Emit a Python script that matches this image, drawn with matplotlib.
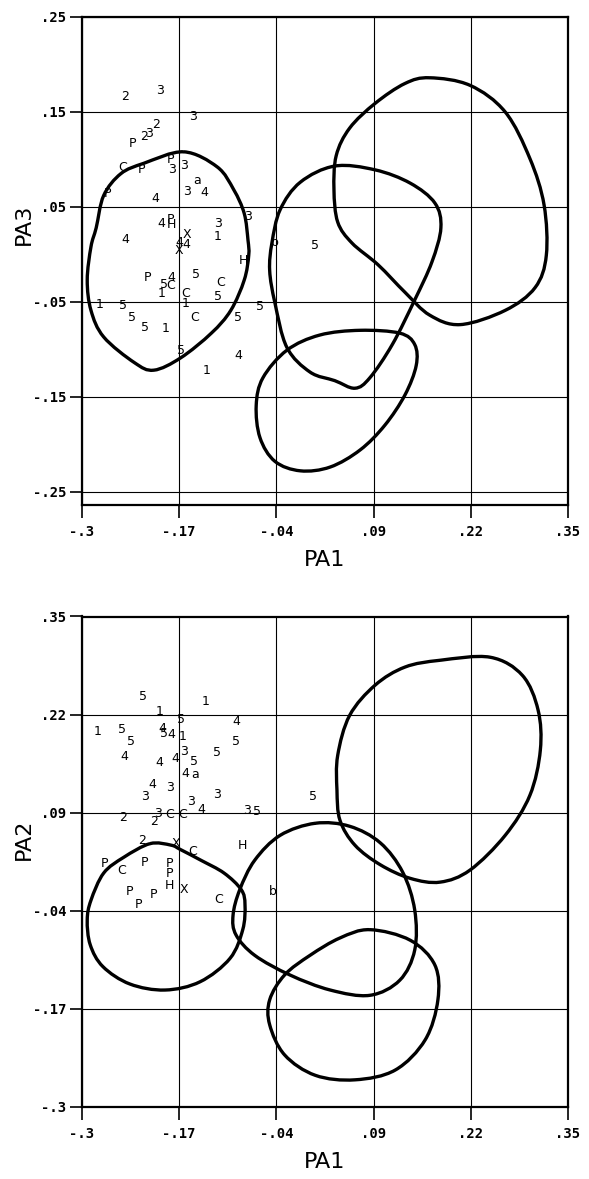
import numpy as np
import matplotlib
matplotlib.use("Agg")
import matplotlib.pyplot as plt
from matplotlib.path import Path
from matplotlib.patches import PathPatch

# ---------------- axes ticks ----------------
x_ticks = [-0.30, -0.17, -0.04, 0.09, 0.22, 0.35]
x_ticklabels = ["-.3", "-.17", "-.04", ".09", ".22", ".35"]
top_yticks = [0.25, 0.15, 0.05, -0.05, -0.15, -0.25]
top_yticklabels = [".25", ".15", ".05", "-.05", "-.15", "-.25"]
bot_yticks = [0.35, 0.22, 0.09, -0.04, -0.17, -0.30]
bot_yticklabels = [".35", ".22", ".09", "-.04", "-.17", "-.3"]

# ---------------- top panel (PA1 vs PA3) labelled points ----------------
top_text = ["2", "3", "3", "2", "3", "2", "P", "C", "P", "P", "3", "3", "3", "a", "4",
            "P", "4", "3", "4", "P", "H", "3", "1", "X", "4", "4", "4", "X", "H",
            "P", "4", "5", "5", "C", "1", "C", "5", "C", "1", "1", "5", "5", "5",
            "C", "5", "5", "1", "5", "4", "1", "b", "5"]
top_x = [-0.243, -0.196, -0.151, -0.201, -0.211, -0.217, -0.233, -0.245, -0.221, -0.182,
         -0.180, -0.164, -0.160, -0.146, -0.136, -0.266, -0.202, -0.078, -0.194, -0.181,
         -0.181, -0.118, -0.119, -0.159, -0.242, -0.170, -0.160, -0.171, -0.084,
         -0.213, -0.181, -0.148, -0.190, -0.181, -0.194, -0.114, -0.118, -0.161, -0.162,
         -0.277, -0.245, -0.062, -0.233, -0.150, -0.092, -0.216, -0.188, -0.167, -0.091,
         -0.133, -0.042, 0.011]
top_y = [0.166, 0.173, 0.145, 0.137, 0.127, 0.124, 0.117, 0.091, 0.089, 0.100,
         0.089, 0.094, 0.066, 0.078, 0.065, 0.064, 0.059, 0.040, 0.033, 0.037,
         0.031, 0.033, 0.019, 0.021, 0.016, 0.013, 0.010, 0.004, -0.006,
         -0.024, -0.024, -0.021, -0.032, -0.033, -0.041, -0.030, -0.044, -0.041, -0.052,
         -0.053, -0.054, -0.055, -0.067, -0.066, -0.066, -0.077, -0.078, -0.101, -0.107,
         -0.122, 0.012, 0.009]

# top panel contours
top_c1_x = [-0.164, -0.119, -0.097, -0.083, -0.078, -0.077, -0.083, -0.101, -0.127, -0.168,
            -0.204, -0.230, -0.271, -0.288, -0.293, -0.288, -0.281, -0.271, -0.248, -0.217]
top_c1_y = [0.108, 0.092, 0.068, 0.043, 0.015, -0.001, -0.027, -0.059, -0.083, -0.109,
            -0.122, -0.114, -0.087, -0.059, -0.027, 0.008, 0.028, 0.062, 0.085, 0.096]
top_c2_x = [0.038, 0.092, 0.139, 0.172, 0.180, 0.168, 0.145, 0.115, 0.085, 0.065,
            0.038, 0.005, -0.026, -0.042, -0.049, -0.046, -0.035, -0.008]
top_c2_y = [0.093, 0.089, 0.075, 0.054, 0.028, -0.008, -0.048, -0.095, -0.130, -0.141,
            -0.133, -0.124, -0.098, -0.051, -0.017, 0.012, 0.047, 0.076]
top_c3_x = [0.165, 0.219, 0.266, 0.299, 0.318, 0.321, 0.306, 0.266, 0.206, 0.165,
            0.132, 0.096, 0.061, 0.042, 0.037, 0.040, 0.058, 0.092, 0.132]
top_c3_y = [0.186, 0.178, 0.150, 0.101, 0.052, -0.001, -0.035, -0.059, -0.074, -0.064,
            -0.040, -0.011, 0.012, 0.034, 0.068, 0.104, 0.133, 0.159, 0.180]
top_c4_x = [-0.026, 0.018, 0.072, 0.125, 0.145, 0.147, 0.132, 0.105, 0.072, 0.032,
            -0.008, -0.042, -0.062, -0.067, -0.058]
top_c4_y = [-0.101, -0.085, -0.080, -0.083, -0.095, -0.117, -0.148, -0.180, -0.206, -0.224,
            -0.228, -0.218, -0.193, -0.159, -0.130]

# ---------------- bottom panel (PA1 vs PA2) labelled points ----------------
bot_text = ["5", "1", "1", "5", "4", "1", "5", "5", "4", "5", "4", "1", "5", "4", "4",
            "4", "3", "5", "5", "4", "a", "4", "3", "3", "3", "3", "4", "3", "5", "2",
            "3", "2", "C", "C", "2", "X", "C", "H", "P", "C", "P", "P", "P", "H", "P",
            "P", "P", "X", "C", "b", "5"]
bot_x = [-0.218, -0.135, -0.196, -0.168, -0.093, -0.279, -0.246, -0.234, -0.192, -0.190,
         -0.181, -0.165, -0.094, -0.244, -0.196, -0.175, -0.164, -0.150, -0.120, -0.162,
         -0.149, -0.206, -0.182, -0.216, -0.120, -0.154, -0.140, -0.079, -0.066, -0.245,
         -0.199, -0.203, -0.183, -0.166, -0.220, -0.175, -0.152, -0.086, -0.270, -0.247,
         -0.216, -0.183, -0.183, -0.183, -0.237, -0.205, -0.225, -0.163, -0.117, -0.045,
         0.009]
bot_y = [0.244, 0.238, 0.224, 0.213, 0.211, 0.197, 0.200, 0.185, 0.202, 0.195,
         0.193, 0.191, 0.185, 0.164, 0.156, 0.162, 0.171, 0.158, 0.170, 0.142,
         0.141, 0.128, 0.124, 0.111, 0.114, 0.105, 0.094, 0.093, 0.091, 0.083,
         0.089, 0.078, 0.087, 0.087, 0.053, 0.049, 0.038, 0.047, 0.023, 0.014,
         0.024, 0.023, 0.010, -0.007, -0.015, -0.018, -0.031, -0.012, -0.025, -0.015,
         0.111]

# bottom panel contours
bot_c1_x = [-0.209, -0.181, -0.168, -0.141, -0.110, -0.087, -0.082, -0.085, -0.102, -0.142,
            -0.189, -0.236, -0.272, -0.289, -0.293, -0.288, -0.271, -0.244]
bot_c1_y = [0.049, 0.047, 0.041, 0.027, 0.010, -0.012, -0.032, -0.065, -0.103, -0.134,
            -0.145, -0.137, -0.114, -0.085, -0.052, -0.026, 0.010, 0.031]
bot_c2_x = [0.012, 0.058, 0.099, 0.129, 0.145, 0.145, 0.125, 0.085, 0.032, -0.022,
            -0.069, -0.094, -0.098, -0.089, -0.069, -0.035]
bot_c2_y = [0.076, 0.072, 0.050, 0.011, -0.039, -0.092, -0.132, -0.152, -0.145, -0.125,
            -0.099, -0.072, -0.046, -0.012, 0.027, 0.060]
bot_c3_x = [0.085, 0.139, 0.172, 0.176, 0.159, 0.119, 0.065, 0.012, -0.029, -0.049,
            -0.049, -0.029, 0.005, 0.045]
bot_c3_y = [-0.065, -0.079, -0.112, -0.158, -0.211, -0.251, -0.264, -0.258, -0.231, -0.191,
            -0.158, -0.125, -0.099, -0.076]
bot_c4_x = [0.179, 0.246, 0.289, 0.310, 0.313, 0.299, 0.266, 0.219, 0.179, 0.139,
            0.099, 0.065, 0.045, 0.041, 0.042, 0.058, 0.092, 0.132]
bot_c4_y = [0.292, 0.296, 0.272, 0.226, 0.173, 0.113, 0.060, 0.014, -0.002, 0.003,
            0.021, 0.047, 0.080, 0.120, 0.166, 0.219, 0.259, 0.283]


def closed_smooth_path(xs, ys):
    P = np.column_stack([xs, ys]).astype(float)
    n = len(P)
    verts = [P[0]]
    codes = [Path.MOVETO]
    for i in range(n):
        p0, p1, p2, p3 = P[i - 1], P[i], P[(i + 1) % n], P[(i + 2) % n]
        c1 = p1 + (p2 - p0) / 6.0
        c2 = p2 - (p3 - p1) / 6.0
        verts += [c1, c2, p2]
        codes += [Path.CURVE4] * 3
    return Path(verts, codes)


def style_axes(ax, yticks, yticklabels, ylim, ylabel, ylabel_pos):
    ax.set_xlim(-0.30, 0.35)
    ax.set_ylim(*ylim)
    ax.set_xticks(x_ticks)
    ax.set_xticklabels(x_ticklabels)
    ax.set_yticks(yticks)
    ax.set_yticklabels(yticklabels)
    for lab in ax.get_xticklabels() + ax.get_yticklabels():
        lab.set_fontfamily("DejaVu Sans Mono")
        lab.set_fontweight("bold")
        lab.set_fontsize(10)
    ax.tick_params(axis="x", direction="out", length=9.5, width=1.2, pad=5)
    ax.tick_params(axis="y", direction="out", length=8.5, width=1.2, pad=3)
    ax.grid(True, color="black", linewidth=0.8)
    ax.set_axisbelow(True)
    for sp in ax.spines.values():
        sp.set_linewidth(1.6)
        sp.set_color("black")
    ax.set_xlabel("PA1", fontsize=16, labelpad=8)
    ax.set_ylabel(ylabel, fontsize=16)
    ax.yaxis.set_label_coords(*ylabel_pos)


fig = plt.figure(figsize=(5.89, 11.79), dpi=100)
W, H = 589.0, 1179.0
ax1 = fig.add_axes([82 / W, (H - 505) / H, 486 / W, 488 / H])
ax2 = fig.add_axes([82 / W, (H - 1107) / H, 486 / W, 490.5 / H])

style_axes(ax1, top_yticks, top_yticklabels, (-0.264, 0.25), "PA3", (-0.10, 0.575))
style_axes(ax2, bot_yticks, bot_yticklabels, (-0.30, 0.35), "PA2", (-0.10, 0.545))

for ax, contours in [
    (ax1, [(top_c1_x, top_c1_y), (top_c2_x, top_c2_y), (top_c3_x, top_c3_y), (top_c4_x, top_c4_y)]),
    (ax2, [(bot_c1_x, bot_c1_y), (bot_c2_x, bot_c2_y), (bot_c3_x, bot_c3_y), (bot_c4_x, bot_c4_y)]),
]:
    for cx, cy in contours:
        ax.add_patch(PathPatch(closed_smooth_path(cx, cy), facecolor="none",
                               edgecolor="black", linewidth=2.4, zorder=3))

for ax, texts, xs, ys in [(ax1, top_text, top_x, top_y), (ax2, bot_text, bot_x, bot_y)]:
    for t, x, y in zip(texts, xs, ys):
        ax.text(x, y, t, fontsize=9, ha="center", va="center", color="black", zorder=4,
                family="DejaVu Sans")

fig.savefig("out.png", dpi=100)
